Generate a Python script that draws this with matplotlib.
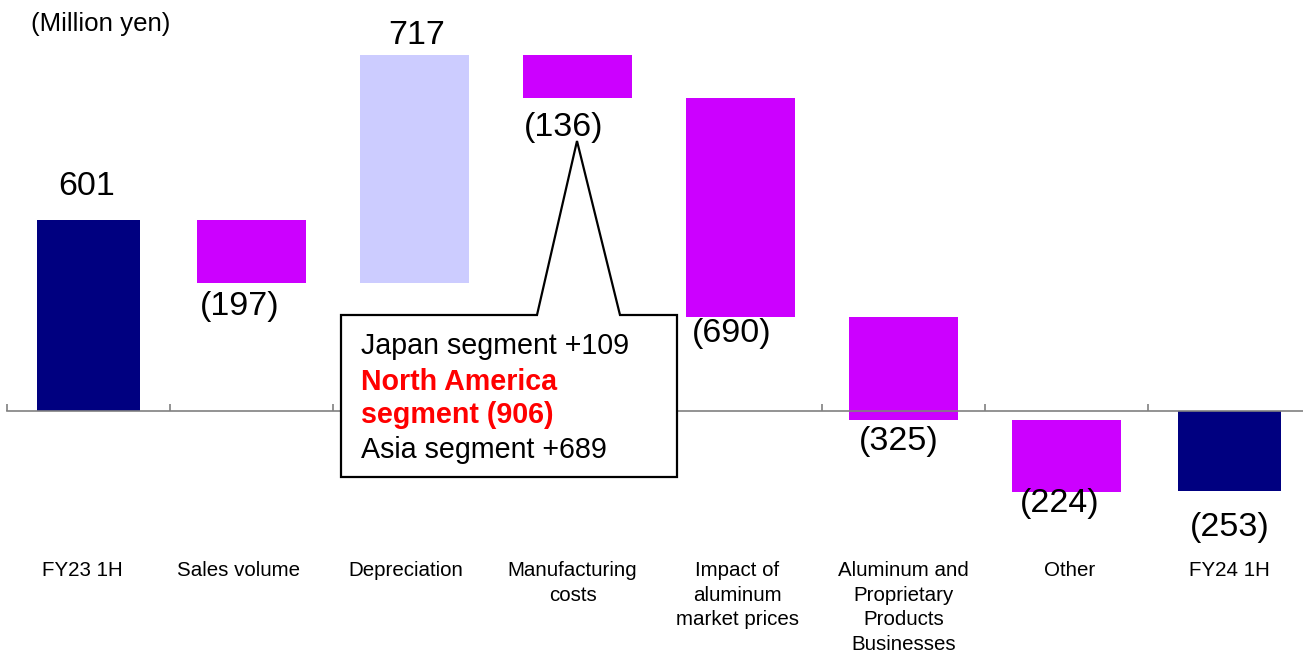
import numpy as np
import matplotlib.pyplot as plt
from matplotlib.patches import Polygon
from matplotlib.transforms import offset_copy

plt.rcParams['font.family'] = ['Liberation Sans', 'DejaVu Sans']

# operating profit bridge, million yen
categories = ['FY23 1H', 'Sales volume', 'Depreciation', 'Manufacturing\ncosts',
              'Impact of\naluminum\nmarket prices',
              'Aluminum and\nProprietary\nProducts\nBusinesses',
              'Other', 'FY24 1H']
start_value = 601
changes = [-197, 717, -136, -690, -325, -224]
end_value = -253

callout_lines = ['Japan segment +109', 'North America', 'segment (906)', 'Asia segment +689']
callout_colors = ['black', 'red', 'red', 'black']
callout_weights = ['normal', 'bold', 'bold', 'normal']

NAVY = '#000080'
PURPLE = '#CC00FF'
LAVENDER = '#CCCCFF'

W, H = 1303, 656
fig = plt.figure(figsize=(W / 100, H / 100), dpi=100)
ax = fig.add_axes([7 / W, 0, 1304 / W, 1])
ax.set_xlim(-0.5, 7.5)
ax.set_ylim(-771, 1293)

def fx(x):
    return x / W

def fy(y):
    return 1 - y / H

# waterfall bars
bottoms, heights, colors = [0], [start_value], [NAVY]
running = start_value
for c in changes:
    if c > 0:
        bottoms.append(running)
        colors.append(LAVENDER)
    else:
        bottoms.append(running + c)
        colors.append(PURPLE)
    heights.append(abs(c))
    running += c
bottoms.append(min(0, end_value))
heights.append(abs(end_value))
colors.append(NAVY)

widths = [0.63] + [0.67] * len(changes) + [0.63]
x = np.arange(len(categories))
ax.bar(x, heights, bottom=bottoms, width=widths, color=colors, zorder=2)

# value labels
values = [start_value] + changes + [end_value]
label_offsets = [(-2, 33), (-12, -24), (2, 19), (-14, -30),
                 (-9, -16), (-5, -21), (-7, -12), (0, -36)]
for i, v in enumerate(values):
    txt = str(v) if v >= 0 else '(%d)' % abs(v)
    anchor = bottoms[i] + heights[i] if v >= 0 else bottoms[i]
    dx, dy = label_offsets[i]
    ax.annotate(txt, xy=(i, anchor), xytext=(dx, dy), textcoords='offset pixels',
                ha='center', va='center', fontsize=24.5, zorder=3)

# zero line with tick marks between categories
for s in ['left', 'right', 'top']:
    ax.spines[s].set_visible(False)
ax.spines['bottom'].set_position(('data', 0))
ax.spines['bottom'].set_color('#808080')
ax.spines['bottom'].set_linewidth(1.2)
ax.set_xticks(np.arange(-0.5, 8, 1))
ax.set_xticklabels([])
ax.tick_params(axis='x', direction='in', length=5, color='#808080', width=1.2)
ax.set_yticks([])

# category names
name_shift = [-6, -13, -9, -5, -3, 0, 3, 0]
for i, name in enumerate(categories):
    tr = offset_copy(ax.get_xaxis_transform(), fig=fig, x=name_shift[i] * 0.72,
                     y=0, units='points')
    ax.text(i, fy(561), name, transform=tr,
            ha='center', va='top', fontsize=14.8, linespacing=1.38)

fig.text(fx(31), fy(31), '(Million yen)', fontsize=18.6, va='baseline')

# callout for manufacturing costs breakdown
pts = [(341, 315), (537, 315), (577, 141), (620, 315), (677, 315), (677, 477), (341, 477)]
callout = Polygon([(fx(px), fy(py)) for px, py in pts], closed=True,
                  facecolor='white', edgecolor='black', linewidth=1.6,
                  transform=fig.transFigure, zorder=5, clip_on=False)
ax.add_patch(callout)
baselines = [354, 390, 423, 458]
for line, col, wt, by in zip(callout_lines, callout_colors, callout_weights, baselines):
    fig.text(fx(361), fy(by), line, color=col, fontweight=wt, fontsize=20.6,
             va='baseline', zorder=6)

fig.savefig('out.png', dpi=100)
